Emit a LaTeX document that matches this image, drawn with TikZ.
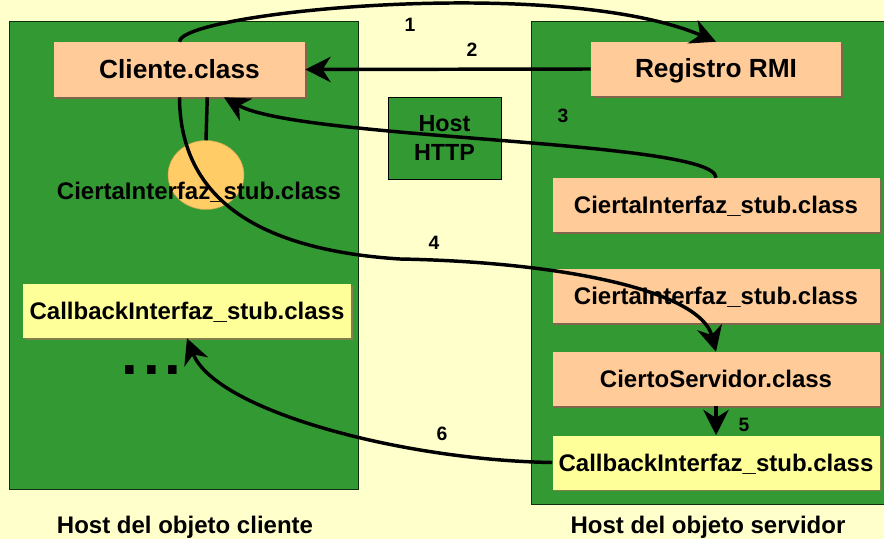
\documentclass[tikz,border=0pt]{standalone}
\usepackage{fontspec}
\setmainfont{Liberation Sans}
\usetikzlibrary{arrows.meta,shapes.geometric,shadows}

\definecolor{fondo}{RGB}{255,255,204}
\definecolor{verde}{RGB}{51,153,51}
\definecolor{durazno}{RGB}{255,204,153}
\definecolor{amarillo}{RGB}{255,255,153}
\definecolor{naranja}{RGB}{255,204,102}

\tikzset{
  host/.style={fill=verde, draw=black!70!verde, line width=0.6pt},
  clase/.style={fill=durazno, inner sep=0pt, minimum height=40.5pt,
    text height=13pt, text depth=0pt, font=\bfseries\fontsize{18}{20}\selectfont,
    drop shadow={shadow xshift=1.2pt, shadow yshift=-1.2pt, fill=durazno!50!black, opacity=1}},
  callback/.style={clase, fill=amarillo,
    drop shadow={shadow xshift=1.2pt, shadow yshift=-1.2pt, fill=amarillo!50!black, opacity=1}},
  titulo/.style={font=\bfseries\fontsize{19.7}{22}\selectfont},
  numero/.style={font=\bfseries\fontsize{14.5}{16}\selectfont, inner sep=0pt},
  rotulo/.style={font=\bfseries\fontsize{18}{20}\selectfont, inner sep=0pt, anchor=base},
  flecha/.style={line width=2.6pt, -{Stealth[length=19pt, width=19pt, inset=6pt]}},
  linea/.style={line width=2.6pt}
}

\begin{document}
\begin{tikzpicture}[x=0.75pt, y=-0.75pt]
\clip (0,0) rectangle (884,539);
\fill[fondo] (0,0) rectangle (884,539);

% los dos hosts
\draw[host] (9,21) rectangle (358,489);
\draw[host] (531,21) rectangle (892,504);
\node[rotulo] (hostcli) at (185,533) {Host del objeto cliente};
\node[rotulo] (hostsrv) at (708,533) {Host del objeto servidor};

\node[fill=verde, draw=black, line width=0.6pt, minimum width=84.75pt, minimum height=61.5pt,
  align=center, font=\bfseries\fontsize{17.5}{21.75}\selectfont] (http) at (444.5,138) {Host\\HTTP};

% lado cliente
\node[clase, titulo, minimum width=188.25pt, minimum height=41.25pt] (cliente) at (179.5,69.5) {Cliente.class};
\node[ellipse, fill=naranja, draw=naranja!80!black, minimum width=57pt, minimum height=51.75pt] (stubcli) at (206,175) {};
\node[rotulo] (stubclitxt) at (199,199) {CiertaInterfaz\_stub.class};
\node[callback, minimum width=246pt] (callbackcli) at (187,311) {CallbackInterfaz\_stub.class};
\node[font=\bfseries\fontsize{45}{46}\selectfont, inner sep=0pt, text height=8pt, text depth=0pt,
  anchor=base] (puntos) at (151.5,374) {.\kern3.7pt.\kern3.7pt.};

% lado servidor
\node[clase, titulo, minimum width=187.5pt] (registro) at (716,69) {Registro RMI};
\node[clase, minimum width=245.25pt] (stubsrv) at (716,205) {CiertaInterfaz\_stub.class};
\node[clase, minimum width=245.25pt] (stubsrvb) at (716,296) {CiertaInterfaz\_stub.class};
\node[clase, minimum width=245.25pt] (servidor) at (716,379) {CiertoServidor.class};
\node[callback, minimum width=245.25pt] (callbacksrv) at (716,462.5) {CallbackInterfaz\_stub.class};

% pasos
\draw[flecha] (cliente.north) .. controls (180,12) and (560,-25) .. (registro.north);
\draw[flecha] (registro.west) -- (cliente.east);
\draw[flecha] (stubsrv.north) .. controls (716,140) and (300,140) .. (cliente.-32);
\draw[linea] (cliente.-45) -- (stubcli.north);
\draw[flecha] (cliente.south) .. controls (180,200) and (260,250) .. (400,259)
  .. controls (560,262) and (700,290) .. (servidor.north);
\draw[flecha] (servidor.south) -- (callbacksrv.north);
\draw[flecha] (callbacksrv.west) .. controls (400,460) and (215,410) .. (callbackcli.south);

\node[numero] (n1) at (410,25) {1};
\node[numero] (n2) at (472,50) {2};
\node[numero] (n3) at (563,116) {3};
\node[numero] (n4) at (434,243) {4};
\node[numero] (n5) at (744,425) {5};
\node[numero] (n6) at (442,434) {6};

\end{tikzpicture}
\end{document}
